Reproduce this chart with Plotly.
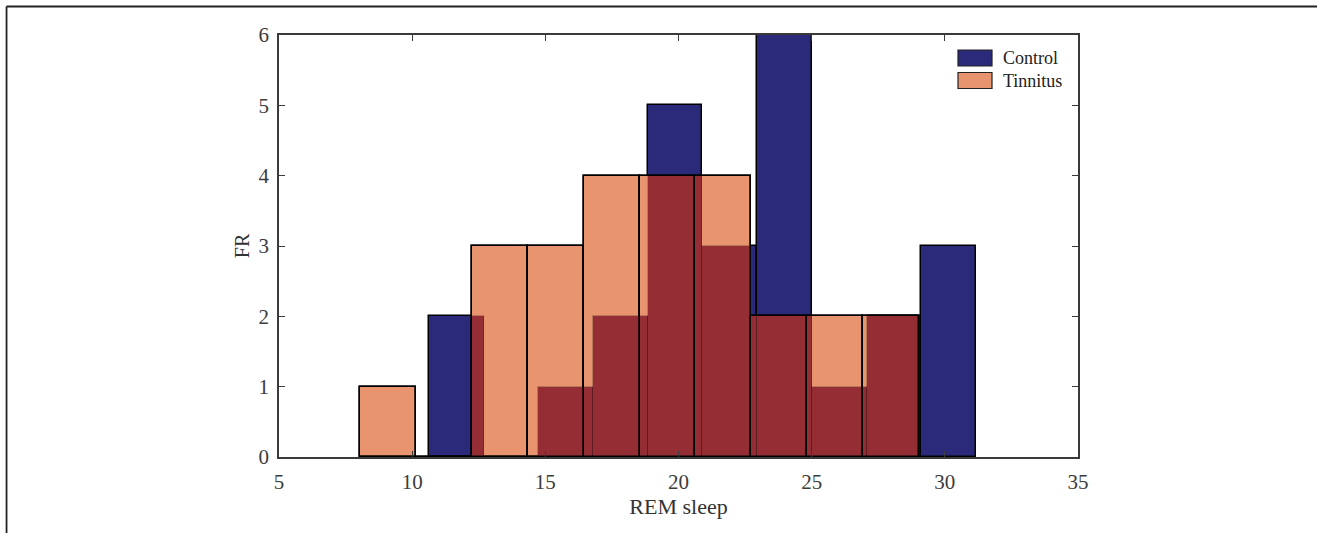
import plotly.graph_objects as go

# ---- data ----
control_edges = [10.63, 12.68, 14.74, 16.79, 18.85, 20.90, 22.95, 25.01, 27.06, 29.12, 31.17]
control_counts = [2, 0, 1, 2, 5, 3, 6, 1, 2, 3]
tinnitus_edges = [8.04, 10.14, 12.24, 14.34, 16.44, 18.54, 20.63, 22.73, 24.83, 26.93, 29.03]
tinnitus_counts = [1, 0, 3, 3, 4, 4, 4, 2, 2, 2]
series_names = ["Control", "Tinnitus"]
x_ticks = [5, 10, 15, 20, 25, 30, 35]
y_ticks = [0, 1, 2, 3, 4, 5, 6]

NAVY = "#2b2a7a"
ORANGE = "#e8946e"
DARKRED = "#952e34"
FONT = "Liberation Serif"


def bins(edges, counts):
    lefts = edges[:-1]
    rights = edges[1:]
    centers = [(a + b) / 2 for a, b in zip(lefts, rights)]
    widths = [b - a for a, b in zip(lefts, rights)]
    return lefts, rights, centers, widths, counts


cl, cr, cc, cw, ch = bins(control_edges, control_counts)
tl, tr, tc, tw, th = bins(tinnitus_edges, tinnitus_counts)

# overlap regions (where semi-transparent tinnitus covers control)
ox, ow, oh = [], [], []
for a, b, h1 in zip(cl, cr, ch):
    for c, d, h2 in zip(tl, tr, th):
        lo, hi, hh = max(a, c), min(b, d), min(h1, h2)
        if hi > lo and hh > 0:
            ox.append((lo + hi) / 2)
            ow.append(hi - lo)
            oh.append(hh)

fig = go.Figure()
fig.add_trace(go.Bar(x=cc, y=ch, width=cw, name=series_names[0], showlegend=False,
                     marker=dict(color=NAVY, line=dict(color="black", width=1.5))))
fig.add_trace(go.Bar(x=tc, y=th, width=tw, name=series_names[1], showlegend=False,
                     marker=dict(color=ORANGE, line=dict(color="black", width=1.5))))
fig.add_trace(go.Bar(x=ox, y=oh, width=ow, showlegend=False, hoverinfo="skip",
                     marker=dict(color=DARKRED, line=dict(width=0))))
fig.add_trace(go.Bar(x=cc, y=ch, width=cw, showlegend=False, hoverinfo="skip",
                     marker=dict(color="rgba(0,0,0,0)", line=dict(color="rgba(0,0,0,0.2)", width=1))))
fig.add_trace(go.Bar(x=tc, y=th, width=tw, showlegend=False, hoverinfo="skip",
                     marker=dict(color="rgba(0,0,0,0)", line=dict(color="black", width=1.5))))

axis_common = dict(
    showgrid=False, zeroline=False, showline=True, linecolor="#3a3a3a", linewidth=1.5,
    mirror="allticks", ticks="inside", ticklen=6, tickwidth=1.2, tickcolor="#3a3a3a",
    tickfont=dict(family=FONT, size=21, color="#3c3c3c"),
)

fig.update_layout(
    width=1317, height=533,
    margin=dict(l=279, r=239, t=35, b=76),
    paper_bgcolor="white", plot_bgcolor="white",
    barmode="overlay", bargap=0,
    showlegend=False,
    xaxis=dict(range=[5, 35], tickvals=x_ticks, ticktext=[str(v) for v in x_ticks],
               title=dict(text="REM sleep", font=dict(family=FONT, size=22, color="#333"), standoff=4),
               ticklabelstandoff=5, **axis_common),
    yaxis=dict(range=[0, 6], tickvals=y_ticks, ticktext=[str(v) for v in y_ticks],
               title=dict(text="FR", font=dict(family=FONT, size=20, color="#333"), standoff=4),
               ticklabelstandoff=4, **axis_common),
)

# outer figure frame (top and left edges)
fig.add_shape(type="line", xref="paper", yref="paper", x0=-0.341, x1=1.31, y0=1.0675, y1=1.0675,
              line=dict(color="#222", width=1.8))
fig.add_shape(type="line", xref="paper", yref="paper", x0=-0.341, x1=-0.341, y0=1.0675, y1=-0.2,
              line=dict(color="#222", width=1.8))

# legend (manual, to match swatch shape)
leg = [(series_names[0], NAVY, 0.0), (series_names[1], ORANGE, 1.0)]
for name, col, k in leg:
    y_top = 1 - (15 + 22.5 * k) / 422
    y_bot = y_top - 16 / 422
    fig.add_shape(type="rect", xref="paper", yref="paper",
                  x0=(958 - 279) / 799, x1=(992 - 279) / 799, y0=y_bot, y1=y_top,
                  fillcolor=col, line=dict(color="#222", width=1.2))
    fig.add_annotation(xref="paper", yref="paper", x=(1001 - 279) / 799, y=(y_top + y_bot) / 2,
                       text=name, showarrow=False, xanchor="left", yanchor="middle",
                       font=dict(family=FONT, size=18, color="#222"))

fig.write_html("out.html")
